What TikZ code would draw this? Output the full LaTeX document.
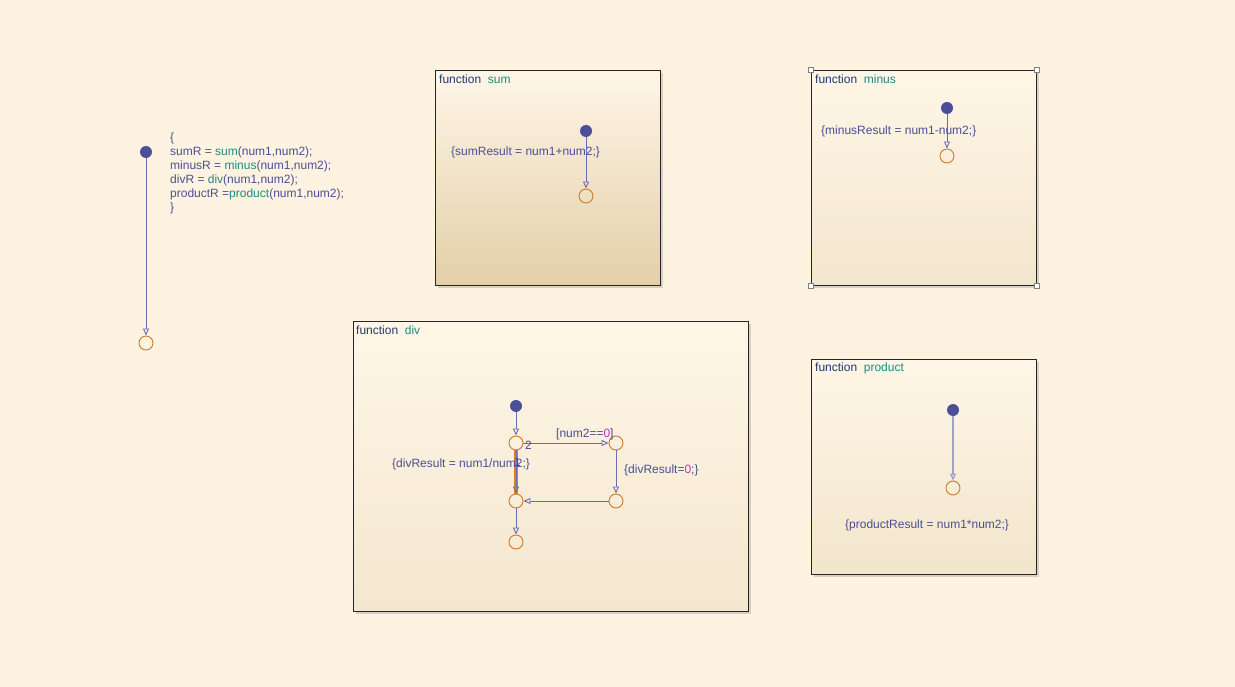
\documentclass[tikz,border=0pt]{standalone}
\usepackage{fontspec}
\setmainfont{Liberation Sans}
\usetikzlibrary{arrows.meta,shadows}
\definecolor{bg}{HTML}{FEF3E0}
\definecolor{boxtop}{HTML}{FFF6E7}
\definecolor{sumbot}{HTML}{E3CFA8}
\definecolor{minbot}{HTML}{F3E6CE}
\definecolor{divbot}{HTML}{F4E7CF}
\definecolor{prodbot}{HTML}{F2E5CC}
\definecolor{txt}{HTML}{4A4E96}
\definecolor{fn}{HTML}{1F8A80}
\definecolor{kw}{HTML}{1E3A6A}
\definecolor{junc}{HTML}{D07A28}
\definecolor{dotc}{HTML}{4A4F98}
\definecolor{trans}{HTML}{6A6EB0}
\definecolor{mag}{HTML}{C030C0}
\definecolor{hl}{HTML}{D9801E}
\tikzset{
  x=1pt, y=-1pt,
  every node/.style={font=\fontsize{12}{14}\selectfont, text=txt},
  fbox/.style={draw=black!85, line width=0.9pt, anchor=north west, inner sep=0pt,
     top color=boxtop, bottom color=#1,
     drop shadow={shadow xshift=2.5pt, shadow yshift=-2.5pt, opacity=0.3, fill=black!50}},
  fbox/.default=divbot,
  dfltdot/.style={circle, fill=dotc, minimum size=12pt, inner sep=0pt},
  junction/.style={circle, draw=junc, line width=0.9pt, minimum size=14pt, inner sep=0pt},
  tr/.style={draw=trans, line width=0.9pt, -{Triangle[open, length=7pt, width=6pt]}},
  hdr/.style={anchor=west, inner sep=0pt},
  lbl/.style={anchor=west, inner sep=0pt},
  handle/.style={draw=black!50, fill=white, minimum size=5pt, inner sep=0pt}
}
\begin{document}
\begin{tikzpicture}
\fill[bg] (0,0) rectangle (1235,687);
\useasboundingbox (0,0) rectangle (1235,687);

% main chart
\node[dfltdot] (d0) at (146,152) {};
\node[junction] (j0) at (146,343) {};
\draw[tr] (d0) -- (j0);
\node[anchor=north west, inner sep=0pt, align=left] (code) at (170,133)
 {\{\\
  sumR = \textcolor{fn}{sum}(num1,num2);\\
  minusR = \textcolor{fn}{minus}(num1,num2);\\
  divR = \textcolor{fn}{div}(num1,num2);\\
  productR =\textcolor{fn}{product}(num1,num2);\\
  \}};

% sum
\node[fbox=sumbot, minimum width=225pt, minimum height=215pt] (sumbox) at (435,70) {};
\node[hdr] (sumh) at (439,79) {\textcolor{kw}{function}\ \ \textcolor{fn}{sum}};
\node[dfltdot] (sd) at (586,131) {};
\node[junction] (sj) at (586,196) {};
\draw[tr] (sd) -- (sj);
\node[lbl] (sl) at (451,152.5) {\{sumResult = num1+num2;\}};

% minus
\node[fbox=minbot, minimum width=225pt, minimum height=215pt] (minbox) at (811,70) {};
\node[hdr] (minh) at (815,79) {\textcolor{kw}{function}\ \ \textcolor{fn}{minus}};
\node[dfltdot] (md) at (947,108) {};
\node[junction] (mj) at (947,156) {};
\draw[tr] (md) -- (mj);
\node[lbl] (ml) at (821,131.5) {\{minusResult = num1-num2;\}};
\node[handle] (h1) at (minbox.north west) {};
\node[handle] (h2) at (minbox.north east) {};
\node[handle] (h3) at (minbox.south west) {};
\node[handle] (h4) at (minbox.south east) {};

% div
\node[fbox=divbot, minimum width=395pt, minimum height=290pt] (divbox) at (353,321) {};
\node[hdr] (divh) at (356,330) {\textcolor{kw}{function}\ \ \textcolor{fn}{div}};
\node[dfltdot] (dd) at (516,406) {};
\node[junction] (ja) at (516,443) {};
\node[junction] (jb) at (616,443) {};
\node[junction] (jc) at (516,501) {};
\node[junction] (jd) at (616,501) {};
\node[junction] (je) at (516,542) {};
\draw[tr] (dd) -- (ja);
\draw[hl, line width=3.5pt] (ja) -- (jc);
\draw[tr] (ja) -- (jc);
\draw[tr] (ja) -- (jb);
\draw[tr] (jb) -- (jd);
\draw[tr] (jd) -- (jc);
\draw[tr] (jc) -- (je);
\node[lbl] (l2) at (525,445) {2};
\node[lbl] (lg) at (556,434.5) {[num2==\textcolor{mag}{0}]};
\node[lbl] (lda) at (624,470.5) {\{divResult=\textcolor{mag}{0};\}};
\node[lbl] (ldr) at (392,464.5) {\{divResult = num1/num2;\}};
\node[lbl] (l1) at (514,462) {1};

% product
\node[fbox=prodbot, minimum width=225pt, minimum height=215pt] (prodbox) at (811,359) {};
\node[hdr] (prodh) at (815,368) {\textcolor{kw}{function}\ \ \textcolor{fn}{product}};
\node[dfltdot] (pd) at (953,410) {};
\node[junction] (pj) at (953,488) {};
\draw[tr, draw=trans!65, line width=1.4pt] (pd) -- (pj);
\node[lbl] (pl) at (845,525.5) {\{productResult = num1*num2;\}};
\end{tikzpicture}
\end{document}
